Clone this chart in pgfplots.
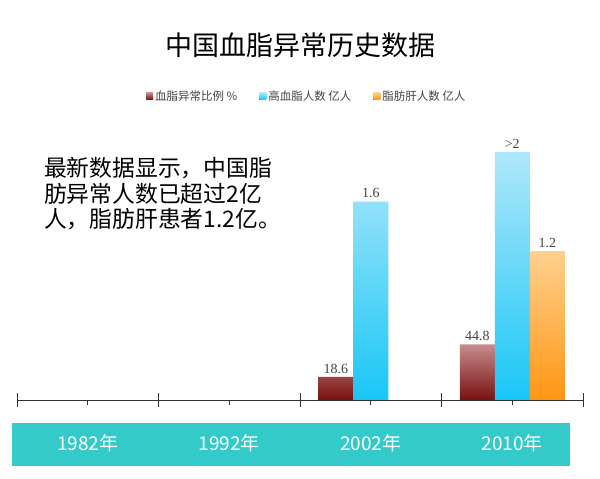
\documentclass[border=0pt]{standalone}
\usepackage{pgfplots}
\pgfplotsset{compat=1.18}
\usepackage{fontspec}
\setmainfont{Noto Sans CJK SC}
\newfontfamily\serifnum{Liberation Serif}
\definecolor{mtop}{HTML}{C68C8C}
\definecolor{mbot}{HTML}{781010}
\definecolor{btop}{HTML}{AEE8FA}
\definecolor{bbot}{HTML}{1AC6F6}
\definecolor{otop}{HTML}{FFD08E}
\definecolor{obot}{HTML}{FF9612}
\definecolor{band}{HTML}{35CACA}
\definecolor{axgray}{HTML}{333333}
\definecolor{lbl}{HTML}{444444}
\begin{document}
\begin{tikzpicture}
\useasboundingbox (0pt,0pt) rectangle (600pt,479pt);
\fill[white] (0pt,0pt) rectangle (600pt,479pt);
\fill[band] (12pt,13pt) rectangle (570pt,56pt);
\node[font=\fontsize{27}{30}\selectfont] at (300pt,434pt) {中国血脂异常历史数据};
\node[anchor=base west, inner sep=0, font=\fontsize{22.8}{26}\selectfont] at (44pt,302pt) {最新数据显示，中国脂};
\node[anchor=base west, inner sep=0, font=\fontsize{22.8}{26}\selectfont] at (44pt,276pt) {肪异常人数已超过2亿};
\node[anchor=base west, inner sep=0, font=\fontsize{22.8}{26}\selectfont] at (44pt,251pt) {人，脂肪肝患者1.2亿。};
\begin{axis}[
  at={(87.75pt,79pt)}, anchor=origin,
  scale only axis, width=566pt, height=297.6pt,
  xmin=-0.5, xmax=3.5, ymin=0, ymax=2.4,
  axis x line*=bottom, axis y line=none,
  x axis line style={axgray, line width=0.8pt},
  ybar=0pt, bar width=35pt,
  xtick={0,1,2,3},
  xticklabels={1982年,1992年,2002年,2010年},
  major tick length=5pt, tick align=outside,
  tick style={axgray, line width=0.8pt},
  extra x ticks={-0.5,0.5,1.5,2.5,3.5},
  extra x tick labels={},
  extra x tick style={major tick length=14pt, tick align=center},
  xticklabel style={font=\fontsize{19}{20}\selectfont, text=white, anchor=center, yshift=-38pt},
  nodes near coords,
  point meta=explicit symbolic,
  every node near coord/.append style={font=\serifnum\fontsize{14}{16}\selectfont, text=lbl},
  legend columns=3,
  legend style={at={(axis description cs:0.512,1.021)}, anchor=center, draw=none, fill=none,
    font=\fontsize{11.5}{13}\selectfont, text=lbl,
    /tikz/every even column/.append style={column sep=20pt}},
  legend image code/.code={\fill[#1] (0pt,-3.5pt) rectangle (7pt,3.5pt);},
  clip=false,
]
\addplot[draw=none, top color=mtop, bottom color=mbot] coordinates {(2,0.186)[18.6] (3,0.448)[44.8]};
\addplot[draw=none, top color=btop, bottom color=bbot] coordinates {(2,1.6)[1.6] (3,2.0)[>2]};
\addplot[draw=none, top color=otop, bottom color=obot] coordinates {(3,1.2)[1.2]};
\legend{血脂异常比例 \%, 高血脂人数 亿人, 脂肪肝人数 亿人}
\end{axis}
\end{tikzpicture}
\end{document}
